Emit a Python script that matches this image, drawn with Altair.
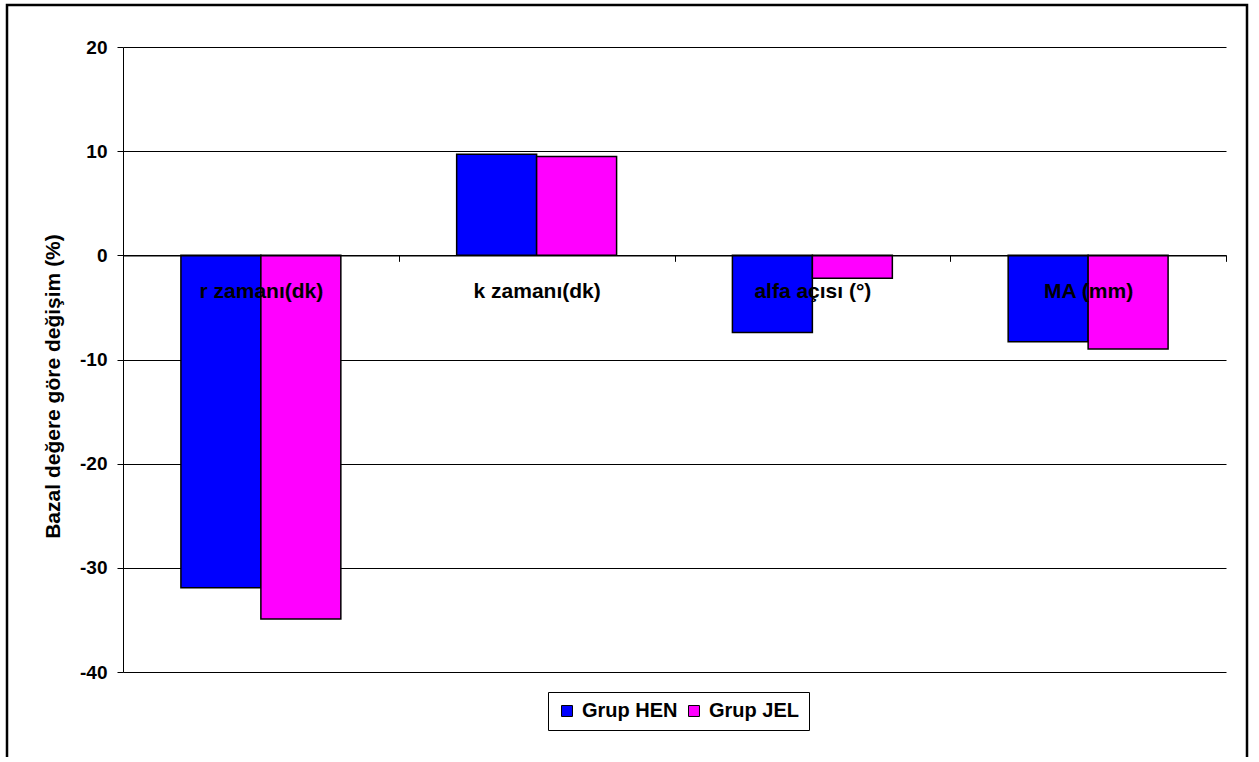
import altair as alt
import pandas as pd

categories = ["r zamanı(dk)", "k zamanı(dk)", "alfa açısı (°)", "MA (mm)"]
groups = ["Grup HEN", "Grup JEL"]
hen = [-31.9, 9.7, -7.4, -8.3]
jel = [-34.9, 9.5, -2.2, -9.0]
y_ticks = [-40, -30, -20, -10, 0, 10, 20]
colors = ["#0000FF", "#FF00FF"]

rows = []
for c, h, j in zip(categories, hen, jel):
    rows.append({"kategori": c, "grup": groups[0], "deger": h})
    rows.append({"kategori": c, "grup": groups[1], "deger": j})
df = pd.DataFrame(rows)

W, H = 1103, 625
FONT = "Liberation Sans"
zero_offset = -H * 40 / 60

bars = alt.Chart(df).mark_bar(stroke="black", strokeWidth=1.5).encode(
    x=alt.X(
        "kategori:N",
        sort=categories,
        scale=alt.Scale(paddingInner=0.42, paddingOuter=0.21),
        axis=alt.Axis(
            title=None, orient="bottom", offset=zero_offset, labelAngle=0,
            tickOffset=W / 8, labelOffset=-W / 8,
            tickSize=6, tickColor="black", tickWidth=1,
            domainColor="black", domainWidth=1.5, labelPadding=19,
            labelFontSize=21, labelFontWeight="bold", labelColor="black",
            labelFont=FONT, labelLimit=300, zindex=2,
        ),
    ),
    xOffset=alt.XOffset("grup:N", sort=groups,
                        scale=alt.Scale(paddingInner=0, paddingOuter=0)),
    y=alt.Y(
        "deger:Q",
        scale=alt.Scale(domain=[-40, 20], nice=False, zero=False),
        axis=alt.Axis(
            values=y_ticks, title="Bazal değere göre değişim (%)",
            labelExpr="'' + datum.value",
            grid=True, gridColor="black", gridWidth=1, gridOpacity=1,
            domainColor="black", domainWidth=1, tickColor="black", tickSize=6,
            labelPadding=10, labelFontSize=19, labelFontWeight="bold",
            labelColor="black", labelFont=FONT,
            titleFontSize=21, titleFontWeight="bold", titleColor="black",
            titleFont=FONT, titlePadding=16, titleY=339,
        ),
    ),
    color=alt.Color(
        "grup:N",
        scale=alt.Scale(domain=groups, range=colors),
        legend=alt.Legend(
            title=None, orient="none", legendX=425, legendY=645,
            direction="horizontal", strokeColor="black", fillColor="white",
            padding=9, symbolType="square", symbolSize=120,
            symbolStrokeColor="black", symbolStrokeWidth=1, symbolOpacity=1,
            labelFontSize=20, labelFontWeight="bold", labelColor="black",
            labelFont=FONT, columnPadding=6, symbolOffset=0, labelOffset=5,
        ),
    ),
)

border = alt.Chart(pd.DataFrame({"a": [0]})).mark_rect(
    fill="transparent", stroke="black", strokeWidth=2.5
).encode(
    x=alt.value(-116), x2=alt.value(1124), y=alt.value(-42), y2=alt.value(725)
)

chart = alt.layer(bars, border).properties(
    width=W, height=H,
    autosize=alt.AutoSizeParams(type="none"),
    padding={"left": 123, "top": 47, "right": 24, "bottom": 85},
    background="white",
).configure_view(strokeOpacity=0)

chart.save("out.html", embed_options={"renderer": "svg", "actions": False})
